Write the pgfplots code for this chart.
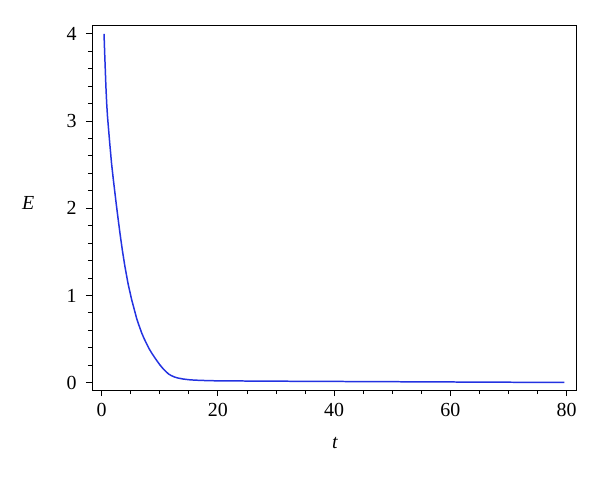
\documentclass[border=0pt]{standalone}
\usepackage{fontspec}
\setmainfont{Liberation Serif}
\usepackage{pgfplots}
\pgfplotsset{compat=1.18}
\definecolor{curveblue}{RGB}{35,50,225}
\begin{document}
\begin{tikzpicture}
\useasboundingbox (-92bp,-99bp) rectangle (508bp,390bp);
\begin{axis}[
  at={(0,0)}, anchor=south west,
  scale only axis, width=484bp, height=364bp,
  xmin=-1.67, xmax=81.6, ymin=-0.084, ymax=4.09,
  xtick={0,20,40,60,80}, ytick={0,1,2,3,4},
  minor x tick num=3, minor y tick num=4,
  tick align=outside, tick pos=left,
  major tick length=6bp, minor tick length=4bp,
  every tick/.style={black, line width=1pt},
  axis line style={line width=1pt},
  /pgf/number format/assume math mode=true,
  tick label style={font=\fontsize{20}{22}\selectfont},
  xticklabel style={yshift=-4bp},
  yticklabel style={xshift=-6bp},
  xlabel={\textit{t}}, ylabel={\textit{E}},
  label style={font=\fontsize{20}{22}\selectfont},
  xlabel style={at={(axis description cs:0.502,-0.146)}, anchor=center},
  ylabel style={at={(axis description cs:-0.132,0.514)}, anchor=center, rotate=-90},
]
\addplot[curveblue, line width=1.5pt, line join=round] coordinates {
(0.40,4.00) (0.50,3.80) (0.60,3.62) (0.72,3.40) (0.86,3.20) (1.00,3.05) (1.15,2.93) (1.30,2.81) (1.43,2.71)
(1.70,2.51) (2.00,2.33) (2.25,2.19) (2.50,2.05) (2.80,1.89) (3.15,1.71) (3.55,1.52) (4.00,1.33)
(4.55,1.13) (5.16,0.95) (5.60,0.84) (6.00,0.74) (6.40,0.66) (6.88,0.57) (7.30,0.505)
(7.70,0.45) (8.15,0.39) (8.60,0.34) (9.30,0.27) (10.00,0.205) (10.50,0.165) (11.00,0.13) (11.50,0.10) (12.00,0.08)
(12.50,0.066) (13.00,0.055) (14.00,0.042) (15.00,0.034) (16.00,0.029) (18.00,0.024) (20.00,0.021)
(30.00,0.017) (40.00,0.014) (50.00,0.011) (60.00,0.008) (70.00,0.005) (79.60,0.003)
};
\end{axis}
\end{tikzpicture}
\end{document}
